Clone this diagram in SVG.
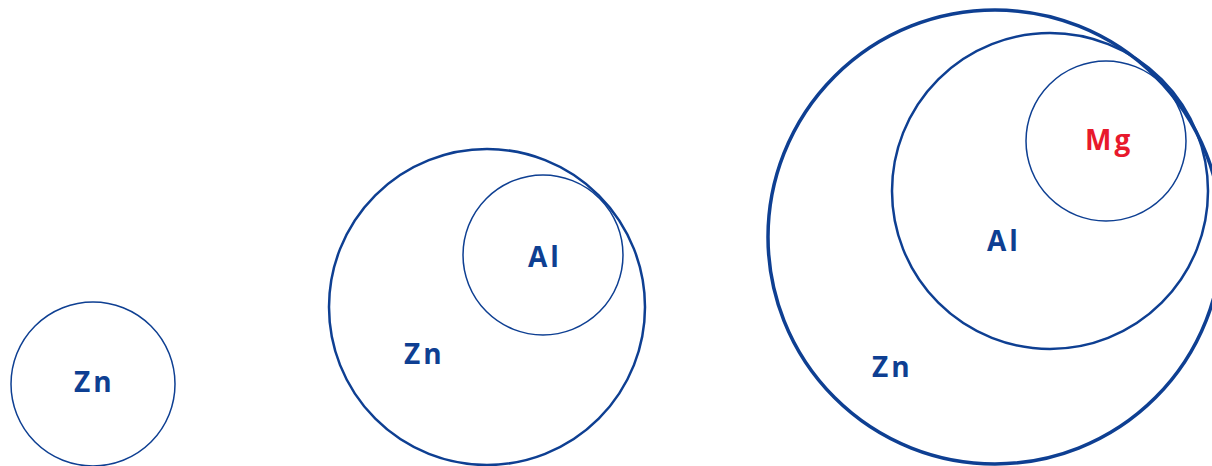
<svg xmlns="http://www.w3.org/2000/svg" width="1212" height="466" viewBox="0 0 1212 466">
<style>
.c{fill:none;stroke:#0e3f92}
.t{font-family:"Open Sans","DejaVu Sans",sans-serif;font-weight:700;font-size:28px;fill:#0e3f92;letter-spacing:3px}
.r{fill:#e8192c}
</style>
<rect width="1212" height="466" fill="#fff"/>
<g id="zn1"><circle class="c" cx="93" cy="384" r="82" stroke-width="1.5"/><text class="t" x="74" y="392">Zn</text></g>
<g id="zn2"><circle class="c" cx="487" cy="307" r="158" stroke-width="2.5"/><text class="t" x="404" y="364">Zn</text></g>
<g id="al2"><circle class="c" cx="543" cy="255" r="80" stroke-width="1.5"/><text class="t" x="528" y="267">Al</text></g>
<g id="zn3"><circle class="c" cx="995" cy="237" r="227" stroke-width="3.5"/><text class="t" x="872" y="377">Zn</text></g>
<g id="al3"><circle class="c" cx="1050" cy="191" r="158" stroke-width="2.5"/><text class="t" x="987" y="251">Al</text></g>
<g id="mg3"><circle class="c" cx="1106" cy="141" r="80" stroke-width="1.5"/><text class="t r" x="1085" y="150">Mg</text></g>
<g id="connectors"></g>
</svg>
